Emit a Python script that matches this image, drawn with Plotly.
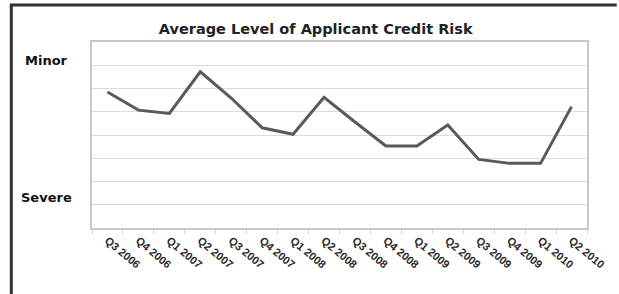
import plotly.graph_objects as go

quarters = ["Q3 2006", "Q4 2006", "Q1 2007", "Q2 2007", "Q3 2007", "Q4 2007",
            "Q1 2008", "Q2 2008", "Q3 2008", "Q4 2008", "Q1 2009", "Q2 2009",
            "Q3 2009", "Q4 2009", "Q1 2010", "Q2 2010"]
risk_level = [5.85, 5.07, 4.93, 6.72, 5.59, 4.31, 4.03, 5.62, 4.56, 3.53,
              3.53, 4.43, 2.95, 2.78, 2.78, 5.22]
title_text = "Average Level of Applicant Credit Risk"
scale_labels = ["Minor", "Severe"]
scale_label_values = [7.2, 1.33]

fig = go.Figure()
fig.add_trace(go.Scatter(
    x=quarters, y=risk_level, mode="lines",
    line=dict(color="#5a5a5a", width=3),
    hoverinfo="skip", showlegend=False,
))

fig.update_layout(
    width=619, height=294,
    margin=dict(l=92, r=27, t=42, b=66),
    paper_bgcolor="white", plot_bgcolor="white",
    title=dict(text=title_text, x=0.51, xanchor="center", y=0.9, yanchor="middle",
               font=dict(family="DejaVu Sans", size=14.5, color="#222222", weight="bold")),
    xaxis=dict(
        type="category", tickangle=40, tickson="boundaries",
        ticks="outside", ticklen=4, tickcolor="#d0d0d0", tickwidth=1,
        showgrid=False, showline=True, linecolor="#c8c8c8", linewidth=2,
        mirror=True, zeroline=False,
        tickfont=dict(family="Liberation Sans, Arial", size=11, color="#2a2a2a", weight="bold"),
        range=[-0.5, len(quarters) - 0.5],
    ),
    yaxis=dict(
        range=[0, 8], dtick=1, showticklabels=False, ticks="",
        showgrid=True, gridcolor="#dcdcdc", gridwidth=1,
        showline=True, linecolor="#c8c8c8", linewidth=2, mirror=True,
        zeroline=False,
    ),
)

for label, val in zip(scale_labels, scale_label_values):
    fig.add_annotation(
        text=label, xref="paper", yref="y", x=-0.092, y=val,
        xanchor="center", yanchor="middle", showarrow=False,
        font=dict(family="DejaVu Sans", size=13, color="#111111", weight="bold"),
    )

# outer frame lines (left and top)
fig.add_shape(type="line", xref="paper", yref="paper",
              x0=-0.163, x1=-0.163, y0=1.199, y1=-0.4,
              line=dict(color="#333333", width=3))
fig.add_shape(type="line", xref="paper", yref="paper",
              x0=-0.166, x1=1.06, y0=1.199, y1=1.199,
              line=dict(color="#333333", width=3))

fig.write_html("out.html", config={"displayModeBar": False},
               post_script="document.body.style.margin='0';")
